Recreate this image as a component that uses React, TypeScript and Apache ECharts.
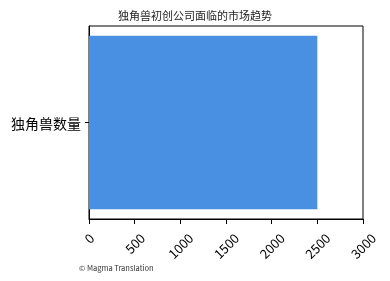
import React, { useEffect, useRef } from "react";
import * as echarts from "echarts";

const categories = ["独角兽数量"];
const values = [2500];
const xTicks = { min: 0, max: 3000, interval: 500 };

// Rotated tick labels hang below their tick with the top of their box level,
// so longer labels are pushed further down: equal top and right padding moves
// a centred, 45°-rotated label straight down.
const LABEL_FONT = 13;
const DIGIT_W = 0.56 * LABEL_FONT;
const labelRich: Record<string, object> = {};
[1, 2, 3, 4, 5].forEach((n) => {
  const p = ((n - 1) * DIGIT_W) / 2;
  labelRich["d" + n] = {
    fontSize: LABEL_FONT,
    color: "#000",
    padding: [p, p, 0, 0],
  };
});

export default function App() {
  const ref = useRef<HTMLDivElement>(null);
  useEffect(() => {
    if (!ref.current) return;
    const chart = echarts.init(ref.current, null, { renderer: "svg" });
    const font = '"Noto Sans CJK SC", "Noto Sans", sans-serif';
    chart.setOption({
      animation: false,
      textStyle: { fontFamily: font },
      title: {
        text: "独角兽初创公司面临的市场趋势",
        left: 195,
        textAlign: "center",
        top: 9,
        padding: 0,
        textStyle: { fontSize: 11, fontWeight: "normal", color: "#222", fontFamily: font },
      },
      grid: {
        left: 89,
        right: 27,
        top: 26,
        bottom: 62,
        outerBoundsMode: "none",
        show: true,
        borderColor: "#000",
        borderWidth: 1,
        backgroundColor: "transparent",
      },
      xAxis: {
        type: "value",
        min: xTicks.min,
        max: xTicks.max,
        interval: xTicks.interval,
        splitLine: { show: false },
        axisLine: { show: true, lineStyle: { color: "#000" } },
        axisTick: { show: true, length: 5, lineStyle: { color: "#000" } },
        axisLabel: {
          rotate: 45,
          margin: 19,
          align: "center",
          verticalAlign: "middle",
          fontSize: LABEL_FONT,
          color: "#000",
          fontFamily: font,
          hideOverlap: false,
          formatter: (v: number) => {
            const s = String(v);
            return "{d" + s.length + "|" + s + "}";
          },
          rich: labelRich,
        },
      },
      yAxis: {
        type: "category",
        data: categories,
        axisLine: { show: true, lineStyle: { color: "#000" } },
        axisTick: { show: true, length: 4, alignWithLabel: true, lineStyle: { color: "#000" } },
        axisLabel: { fontSize: 14, color: "#000", margin: 8, fontFamily: font },
      },
      series: [
        {
          type: "bar",
          data: values,
          barCategoryGap: "10%",
          itemStyle: { color: "#4a90e2" },
        },
      ],
      graphic: [
        {
          type: "text",
          left: 79,
          top: 264,
          style: { text: "© Magma Translation", fontSize: 7.5, fill: "#333", fontFamily: font },
        },
      ],
    });
    return () => chart.dispose();
  }, []);
  return (
    <div
      ref={ref}
      style={{ position: "fixed", left: 0, top: 0, width: 390, height: 281 }}
    />
  );
}
